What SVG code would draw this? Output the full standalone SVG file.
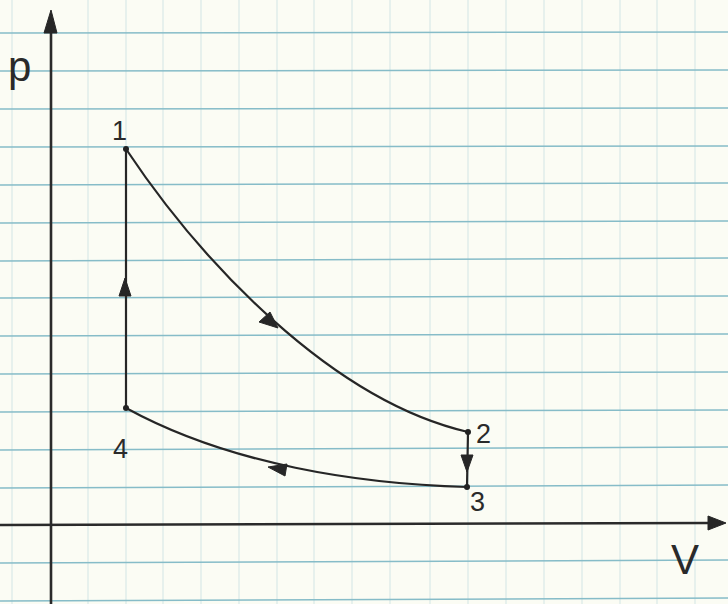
<svg xmlns="http://www.w3.org/2000/svg" width="728" height="604" viewBox="0 0 728 604">
<style>
.hg{stroke:#86bcc8;stroke-width:1.5}
.vg{stroke:#d2e5e5;stroke-width:1}
.ax{stroke:#2a2a2a;stroke-width:2.6;fill:none}
.ln{stroke:#262626;stroke-width:2.2;fill:none;stroke-linecap:round}
.ah{fill:#262626;stroke:#262626;stroke-width:1;stroke-linejoin:round}
.dot{fill:#222}
.lb{font-family:"Liberation Sans","DejaVu Sans",sans-serif;font-size:27px;fill:#2a2a2a}
.big{font-size:42px}
</style>
<rect width="728" height="604" fill="#fbfcf4"/>
<g id="grid">
<g class="vg">
<line x1="12" y1="0" x2="12" y2="604"/><line x1="88" y1="0" x2="88" y2="604"/><line x1="126" y1="0" x2="126" y2="604"/><line x1="163" y1="0" x2="163" y2="604"/><line x1="201" y1="0" x2="201" y2="604"/><line x1="239" y1="0" x2="239" y2="604"/><line x1="277" y1="0" x2="277" y2="604"/><line x1="314" y1="0" x2="314" y2="604"/><line x1="352" y1="0" x2="352" y2="604"/><line x1="390" y1="0" x2="390" y2="604"/><line x1="430" y1="0" x2="430" y2="604"/><line x1="468" y1="0" x2="468" y2="604"/><line x1="506" y1="0" x2="506" y2="604"/><line x1="544" y1="0" x2="544" y2="604"/><line x1="582" y1="0" x2="582" y2="604"/><line x1="620" y1="0" x2="620" y2="604"/><line x1="657" y1="0" x2="657" y2="604"/><line x1="695" y1="0" x2="695" y2="604"/>
</g>
<g class="hg">
<line x1="0" y1="33" x2="728" y2="32"/><line x1="0" y1="71" x2="728" y2="70"/><line x1="0" y1="109" x2="728" y2="108"/><line x1="0" y1="147" x2="728" y2="146"/><line x1="0" y1="185" x2="728" y2="183"/><line x1="0" y1="223" x2="728" y2="221"/><line x1="0" y1="261" x2="728" y2="258"/><line x1="0" y1="298" x2="728" y2="296"/><line x1="0" y1="336" x2="728" y2="334"/><line x1="0" y1="374" x2="728" y2="372"/><line x1="0" y1="412" x2="728" y2="410"/><line x1="0" y1="450" x2="728" y2="447"/><line x1="0" y1="488" x2="728" y2="485"/><line x1="0" y1="563" x2="728" y2="560"/><line x1="0" y1="601" x2="728" y2="598"/>
</g>
</g>
<g id="axes">
<line class="ax" x1="51" y1="604" x2="51" y2="18"/>
<polygon class="ah" points="51,10 44,33 57,33"/>
<line class="ax" x1="0" y1="525" x2="712" y2="523"/>
<polygon class="ah" points="726,523 708,516 708,530"/>
<text class="lb big" x="8" y="81">p</text>
<text class="lb big" x="671" y="574">V</text>
</g>
<g id="connectors">
<path class="ln" d="M126,149 C200,260 330,400 468,432"/>
<polygon class="ah" points="278,328 259,322 270,312"/>
<path class="ln" d="M468,432 L467,487"/>
<polygon class="ah" points="467,472 461,455 473,455"/>
<path class="ln" d="M467,487 C360,484 230,465 126,408"/>
<polygon class="ah" points="268,467 287,464 285,476"/>
<path class="ln" d="M126,408 L126,149"/>
<polygon class="ah" points="125,278 119,296 131,296"/>
</g>
<g id="n1"><circle class="dot" cx="126" cy="149" r="3"/><text class="lb" x="112" y="140">1</text></g>
<g id="n2"><circle class="dot" cx="468" cy="432" r="3"/><text class="lb" x="476" y="443">2</text></g>
<g id="n3"><circle class="dot" cx="467" cy="487" r="3"/><text class="lb" x="470" y="511">3</text></g>
<g id="n4"><circle class="dot" cx="126" cy="408" r="3"/><text class="lb" x="113" y="458">4</text></g>
</svg>
